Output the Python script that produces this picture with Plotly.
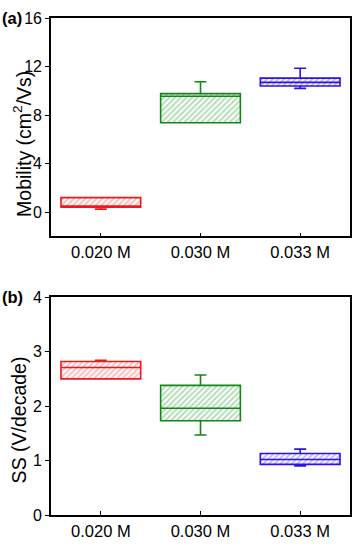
import plotly.graph_objects as go

categories = ["0.020 M", "0.030 M", "0.033 M"]
colors = ["#f01818", "#12861a", "#2a12ee"]
hatch_colors = ["#f08080", "#6cba74", "#8076f0"]

# Mobility (cm^2/Vs)
mob_min = [0.25, 7.37, 10.2]
mob_q1 = [0.42, 7.37, 10.4]
mob_med = [0.45, 9.55, 10.7]
mob_q3 = [1.2, 9.77, 11.05]
mob_max = [1.2, 10.75, 11.86]

# SS (V/decade)
ss_min = [2.5, 1.47, 0.9]
ss_q1 = [2.5, 1.73, 0.93]
ss_med = [2.71, 1.96, 1.02]
ss_q3 = [2.82, 2.38, 1.13]
ss_max = [2.84, 2.57, 1.21]

fig = go.Figure()

def add_panel(xa, ya, mn, q1, med, q3, mx):
    for i, c in enumerate(categories):
        fig.add_trace(go.Bar(
            x=[c], y=[q3[i] - q1[i]], base=[q1[i]], width=0.8,
            marker=dict(color="white", line=dict(width=0),
                        pattern=dict(shape="/", fgcolor=hatch_colors[i], bgcolor="white",
                                     size=4, solidity=0.5)),
            xaxis=xa, yaxis=ya, showlegend=False, hoverinfo="skip"))
        fig.add_trace(go.Box(
            x=[c], q1=[q1[i]], median=[med[i]], q3=[q3[i]],
            lowerfence=[mn[i]], upperfence=[mx[i]], width=0.8, whiskerwidth=0.15,
            fillcolor="rgba(0,0,0,0)", line=dict(color=colors[i], width=1.6),
            xaxis=xa, yaxis=ya, showlegend=False, boxpoints=False))

add_panel("x", "y", mob_min, mob_q1, mob_med, mob_q3, mob_max)
add_panel("x2", "y2", ss_min, ss_q1, ss_med, ss_q3, ss_max)

fam = "Liberation Sans"
xfont = dict(family=fam, size=16.5, color="black")
yfont = dict(family=fam, size=16, color="black")
tfont = dict(family=fam, size=19.5, color="black")
lfont = dict(family=fam, size=16.5, color="black")
axis_common = dict(showline=True, linecolor="black", linewidth=1.6, mirror=True,
                   showgrid=False, zeroline=False, tickcolor="black")

fig.update_layout(
    width=362, height=550,
    margin=dict(l=51, r=10, t=17, b=31),
    paper_bgcolor="white", plot_bgcolor="white",
    barmode="overlay", boxmode="overlay",
    font=dict(family=fam, size=16, color="black"),
    xaxis=dict(domain=[0, 1], anchor="y", type="category", range=[-0.5, 2.5],
               ticks="inside", ticklen=4, tickwidth=1.2, tickfont=xfont, **axis_common),
    yaxis=dict(domain=[0.5604, 1], anchor="x", range=[-2, 16], tickvals=[0, 4, 8, 12, 16],
               ticks="outside", ticklen=4, tickwidth=1.2, tickfont=yfont, **axis_common),
    xaxis2=dict(domain=[0, 1], anchor="y2", type="category", range=[-0.5, 2.5],
                ticks="inside", ticklen=4, tickwidth=1.2, tickfont=xfont, **axis_common),
    yaxis2=dict(domain=[0, 0.4382], anchor="x2", range=[0, 4], tickvals=[0, 1, 2, 3, 4],
                ticks="outside", ticklen=4, tickwidth=1.2, tickfont=yfont, **axis_common),
    annotations=[
        dict(text="Mobility (cm<sup>2</sup>/Vs)", xref="paper", yref="paper",
             x=-0.0963, y=0.747, xanchor="center", yanchor="middle", textangle=-90,
             showarrow=False, font=tfont),
        dict(text="SS (V/decade)", xref="paper", yref="paper",
             x=-0.106, y=0.191, xanchor="center", yanchor="middle", textangle=-90,
             showarrow=False, font=tfont),
        dict(text="<b>(a)</b>", xref="paper", yref="paper", x=-0.172, y=1.0,
             xanchor="left", yanchor="middle", showarrow=False, font=lfont),
        dict(text="<b>(b)</b>", xref="paper", yref="paper", x=-0.172, y=0.4382,
             xanchor="left", yanchor="middle", showarrow=False, font=lfont),
    ],
)

fig.write_html("out.html", config={"displayModeBar": False},
               post_script="document.body.style.margin='0';")
